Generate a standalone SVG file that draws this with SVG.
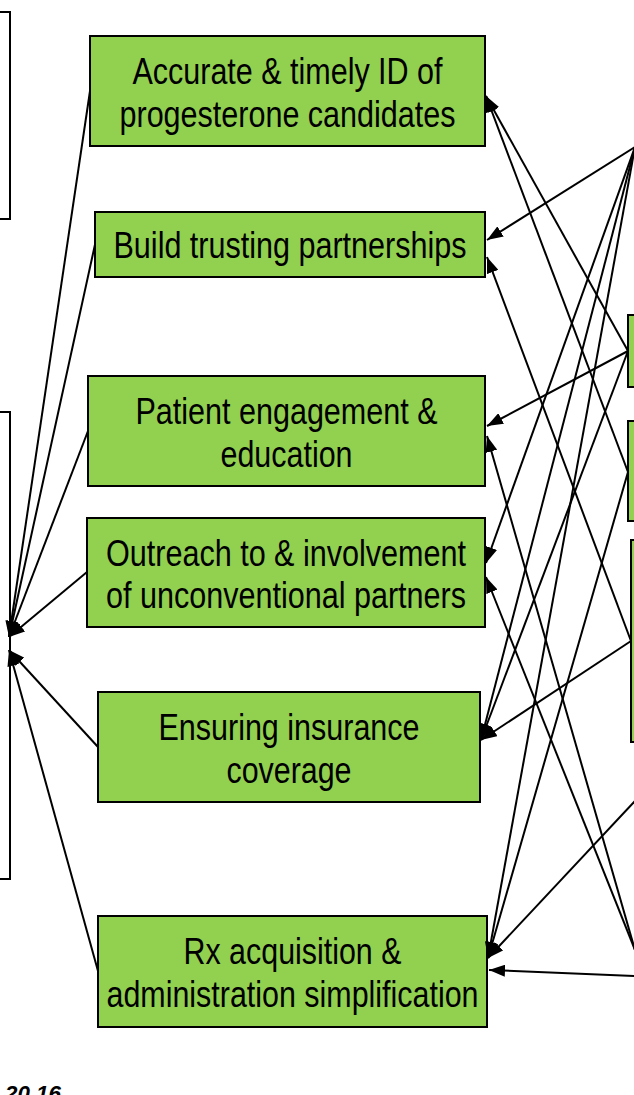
<svg xmlns="http://www.w3.org/2000/svg" width="634" height="1095" viewBox="0 0 634 1095">
  <defs>
    <style>
      .box { fill: #92D050; stroke: #000; stroke-width: 2; }
      .frame { fill: #fff; stroke: #000; stroke-width: 2; }
      .lbl { font-family: "Liberation Sans", Arial, sans-serif; font-size: 37px; text-anchor: middle; fill: #000; }
      .conn { stroke: #000; stroke-width: 2; fill: none; marker-end: url(#arr); }
      .note { font-family: "Liberation Sans", Arial, sans-serif; font-size: 22px; font-weight: bold; font-style: italic; fill: #000; }
    </style>
    <marker id="arr" viewBox="0 0 16 12" refX="16" refY="6" markerWidth="16" markerHeight="12" markerUnits="userSpaceOnUse" orient="auto">
      <path d="M0,0 L16,6 L0,12 Z" fill="#000"/>
    </marker>
  </defs>

  <rect width="634" height="1095" fill="#fff"/>

  <!-- frames cut by the left edge -->
  <g id="left-top"><rect class="frame" x="-20" y="12" width="30" height="207"/></g>
  <g id="left-bottom"><rect class="frame" x="-20" y="412" width="30" height="467"/></g>

  <!-- boxes cut by the right edge -->
  <g id="right-1"><rect class="box" x="628" y="315" width="30" height="72"/></g>
  <g id="right-2"><rect class="box" x="628" y="421" width="30" height="100"/></g>
  <g id="right-3"><rect class="box" x="631" y="540" width="30" height="202"/></g>

  <!-- central strategy boxes -->
  <g id="n-id">
    <rect class="box" x="90" y="36" width="395" height="110"/>
    <text class="lbl" x="287.5" y="84" textLength="310" lengthAdjust="spacingAndGlyphs">Accurate &amp; timely ID of</text>
    <text class="lbl" x="287.5" y="126.5" textLength="336" lengthAdjust="spacingAndGlyphs">progesterone candidates</text>
  </g>
  <g id="n-trust">
    <rect class="box" x="95" y="212" width="390" height="65"/>
    <text class="lbl" x="290" y="258" textLength="353" lengthAdjust="spacingAndGlyphs">Build trusting partnerships</text>
  </g>
  <g id="n-engage">
    <rect class="box" x="88" y="376" width="397" height="110"/>
    <text class="lbl" x="286.5" y="424" textLength="302" lengthAdjust="spacingAndGlyphs">Patient engagement &amp;</text>
    <text class="lbl" x="286.5" y="466.5" textLength="132" lengthAdjust="spacingAndGlyphs">education</text>
  </g>
  <g id="n-outreach">
    <rect class="box" x="87" y="518" width="398" height="109"/>
    <text class="lbl" x="286" y="565.5" textLength="360" lengthAdjust="spacingAndGlyphs">Outreach to &amp; involvement</text>
    <text class="lbl" x="286" y="608" textLength="360" lengthAdjust="spacingAndGlyphs">of unconventional partners</text>
  </g>
  <g id="n-insurance">
    <rect class="box" x="98" y="692" width="382" height="110"/>
    <text class="lbl" x="289" y="740" textLength="261" lengthAdjust="spacingAndGlyphs">Ensuring insurance</text>
    <text class="lbl" x="289" y="782.5" textLength="125" lengthAdjust="spacingAndGlyphs">coverage</text>
  </g>
  <g id="n-rx">
    <rect class="box" x="98" y="916" width="389" height="111"/>
    <text class="lbl" x="292.5" y="964" textLength="218" lengthAdjust="spacingAndGlyphs">Rx acquisition &amp;</text>
    <text class="lbl" x="292.5" y="1007" textLength="372" lengthAdjust="spacingAndGlyphs">administration simplification</text>
  </g>

  <g id="connectors">
    <!-- strategies into the left frame -->
    <line class="conn" x1="90" y1="91" x2="9" y2="637"/>
    <line class="conn" x1="95" y1="244.5" x2="9" y2="637"/>
    <line class="conn" x1="88" y1="431" x2="9" y2="637"/>
    <line class="conn" x1="87" y1="572" x2="9" y2="637"/>
    <line class="conn" x1="98" y1="747" x2="9" y2="650"/>
    <line class="conn" x1="98" y1="971" x2="9" y2="650"/>

    <!-- from the upper right -->
    <line class="conn" x1="635" y1="147" x2="487" y2="240"/>
    <line class="conn" x1="635" y1="147" x2="486" y2="563"/>
    <line class="conn" x1="635" y1="147" x2="481" y2="740"/>
    <line class="conn" x1="635" y1="147" x2="488" y2="958"/>

    <!-- from right box 1 -->
    <line class="conn" x1="628" y1="351" x2="486" y2="96"/>
    <line class="conn" x1="628" y1="351" x2="487" y2="426"/>
    <line class="conn" x1="628" y1="351" x2="481" y2="740"/>

    <!-- from right box 2 -->
    <line class="conn" x1="628" y1="472" x2="486" y2="96"/>
    <line class="conn" x1="628" y1="472" x2="488" y2="958"/>

    <!-- from right box 3 -->
    <line class="conn" x1="631" y1="641" x2="487" y2="257"/>
    <line class="conn" x1="631" y1="641" x2="481" y2="740"/>

    <!-- from the lower right -->
    <line class="conn" x1="635" y1="801" x2="488" y2="958"/>
    <line class="conn" x1="635" y1="950" x2="487" y2="436"/>
    <line class="conn" x1="635" y1="950" x2="486" y2="577"/>
    <line class="conn" x1="635" y1="976" x2="489" y2="970"/>
  </g>

  <text class="note" x="5" y="1101" textLength="56" lengthAdjust="spacingAndGlyphs">20.16</text>
</svg>
